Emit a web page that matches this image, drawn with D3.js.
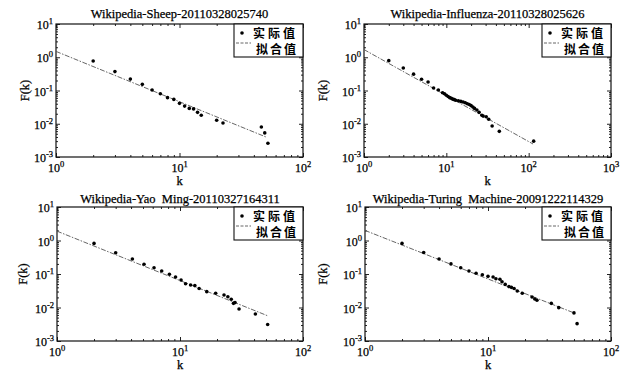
<!DOCTYPE html>
<html>
<head>
<meta charset="utf-8">
<script src="https://cdn.jsdelivr.net/npm/d3@7"></script>
<style>
  body { margin: 0; background: #fff; }
  svg { display: block; }
  text { font-family: 'Liberation Serif', 'DejaVu Serif', serif; fill: #000; stroke: #000; stroke-width: 0.25; }
  .cjk { font-family: 'Noto Sans CJK SC', sans-serif; font-weight: 700; stroke-width: 0; }
  .tick line { stroke: #222; }
</style>
</head>
<body>
<svg id="chart" width="625" height="370"></svg>
<script>
// panel titles
const titles = [
  'Wikipedia-Sheep-20110328025740',
  'Wikipedia-Influenza-20110328025626',
  'Wikipedia-Yao  Ming-20110327164311',
  'Wikipedia-Turing  Machine-20091222114329'
];
const legendLabels = ['实际值', '拟合值'];
const xLabel = 'k';
const yLabel = 'F(k)';

// tick exponents
const yTickExp = [-3, -2, -1, 0, 1];
const xTickExp = [[0, 1, 2], [0, 1, 2, 3], [0, 1, 2], [0, 1, 2]];

// Sheep
const sheepK = [2, 3, 4, 5, 6, 7, 8, 9, 10, 11, 12, 13, 14, 15, 20, 22.5, 46, 49, 52];
const sheepF = [0.77, 0.37, 0.22, 0.153, 0.103, 0.080, 0.061, 0.054, 0.041, 0.034, 0.029, 0.028, 0.022, 0.018, 0.0127, 0.0105, 0.0080, 0.0053, 0.0026];
const sheepFitK = [1, 51];
const sheepFitF = [1.5, 0.0039];

// Influenza
const fluK = [2, 3, 4, 5, 6, 7, 8, 9, 9.5, 10, 10.5, 11, 11.5, 12, 12.5, 13, 14, 15, 16, 17, 18, 19, 20, 21, 22, 23.5, 25, 27, 28, 30.5, 32.7, 36, 44, 115];
const fluF = [0.79, 0.475, 0.31, 0.217, 0.18, 0.119, 0.104, 0.086, 0.080, 0.072, 0.066, 0.061, 0.058, 0.055, 0.053, 0.051, 0.049, 0.047, 0.045, 0.043, 0.040, 0.038, 0.035, 0.032, 0.029, 0.026, 0.022, 0.018, 0.017, 0.0163, 0.0136, 0.0086, 0.0059, 0.0030];
const fluFitK = [1, 113];
const fluFitF = [1.7, 0.00246];

// Yao Ming
const yaoK = [2, 3, 4.1, 5.1, 6.15, 7.1, 8.2, 9.2, 10.2, 11.1, 12.2, 13.2, 14.3, 16.5, 19.5, 22.8, 24.5, 26.1, 27.2, 28, 30.2, 41, 51.6];
const yaoF = [0.82, 0.43, 0.28, 0.195, 0.154, 0.123, 0.098, 0.081, 0.066, 0.051, 0.047, 0.045, 0.037, 0.0297, 0.0265, 0.0236, 0.021, 0.0176, 0.0133, 0.014, 0.009, 0.0064, 0.0031];
const yaoFitK = [1, 52];
const yaoFitF = [1.9, 0.0056];

// Turing Machine
const turingK = [2, 3, 4, 5, 6, 7, 8, 9, 10, 11, 11.6, 12.5, 13, 13.8, 14.8, 15.5, 16.3, 17.3, 19, 22.8, 24, 25, 32.7, 37.6, 50, 53];
const turingF = [0.82, 0.44, 0.28, 0.20, 0.154, 0.123, 0.105, 0.095, 0.085, 0.081, 0.072, 0.07, 0.059, 0.049, 0.042, 0.040, 0.037, 0.031, 0.0265, 0.0206, 0.018, 0.0164, 0.0133, 0.0099, 0.0069, 0.0033];
const turingFitK = [1, 51];
const turingFitF = [2.0, 0.0067];

const svg = d3.select('#chart');

const panels = [
  { x0: 56, x1: 303, y0: 24, y1: 157, xMax: 100, titleY: 18, labelX: 29, k: sheepK, f: sheepF, fk: sheepFitK, ff: sheepFitF },
  { x0: 364, x1: 611, y0: 24, y1: 157, xMax: 1000, titleY: 18, labelX: 327, k: fluK, f: fluF, fk: fluFitK, ff: fluFitF },
  { x0: 57, x1: 303, y0: 207, y1: 341, xMax: 100, titleY: 203, labelX: 27, k: yaoK, f: yaoF, fk: yaoFitK, ff: yaoFitF },
  { x0: 365, x1: 611, y0: 207, y1: 341, xMax: 100, titleY: 203, labelX: 327, k: turingK, f: turingF, fk: turingFitK, ff: turingFitF }
];

function isMajor(v) {
  const l = Math.log10(v);
  return Math.abs(l - Math.round(l)) < 1e-9;
}

function powLabel(sel, e) {
  sel.append('tspan').text('10');
  sel.append('tspan').attr('dy', -5).attr('font-size', 8.5).text(e);
}

function DrawPanel(p, i) {
  const x = d3.scaleLog().domain([1, p.xMax]).range([p.x0, p.x1]);
  const y = d3.scaleLog().domain([1e-3, 10]).range([p.y1, p.y0]);
  const g = svg.append('g');

  const xMinor = x.ticks().filter(v => !isMajor(v));
  const xMajor = xTickExp[i].map(e => Math.pow(10, e));
  const yMinor = y.ticks().filter(v => !isMajor(v));
  const yMajor = yTickExp.map(e => Math.pow(10, e));

  const noDomain = s => s.select('.domain').remove();
  // ticks pointing inward on all four sides
  [[xMinor, 2], [xMajor, 4]].forEach(([vals, len]) => {
    g.append('g').attr('transform', 'translate(0,' + p.y1 + ')')
      .call(d3.axisBottom(x).tickValues(vals).tickSize(-len).tickFormat('')).call(noDomain);
    g.append('g').attr('transform', 'translate(0,' + p.y0 + ')')
      .call(d3.axisTop(x).tickValues(vals).tickSize(-len).tickFormat('')).call(noDomain);
  });
  [[yMinor, 2], [yMajor, 4]].forEach(([vals, len]) => {
    g.append('g').attr('transform', 'translate(' + p.x0 + ',0)')
      .call(d3.axisLeft(y).tickValues(vals).tickSize(-len).tickFormat('')).call(noDomain);
    g.append('g').attr('transform', 'translate(' + p.x1 + ',0)')
      .call(d3.axisRight(y).tickValues(vals).tickSize(-len).tickFormat('')).call(noDomain);
  });

  g.append('rect')
    .attr('x', p.x0).attr('y', p.y0)
    .attr('width', p.x1 - p.x0).attr('height', p.y1 - p.y0)
    .attr('fill', 'none').attr('stroke', '#111').attr('stroke-width', 1.2);

  // tick labels
  xTickExp[i].forEach(e => {
    g.append('text').attr('x', x(Math.pow(10, e))).attr('y', p.y1 + 15)
      .attr('text-anchor', 'middle').attr('font-size', 12).call(powLabel, e);
  });
  yTickExp.forEach(e => {
    g.append('text').attr('x', p.x0 - 3).attr('y', y(Math.pow(10, e)) + 5)
      .attr('text-anchor', 'end').attr('font-size', 12).call(powLabel, e);
  });

  // title and axis labels
  g.append('text').attr('x', (p.x0 + p.x1) / 2).attr('y', p.titleY)
    .attr('text-anchor', 'middle').attr('font-size', 12.5)
    .style('white-space', 'pre').text(titles[i]);
  g.append('text').attr('x', (p.x0 + p.x1) / 2).attr('y', p.y1 + 27.5)
    .attr('text-anchor', 'middle').attr('font-size', 12.5).text(xLabel);
  g.append('text').attr('transform', 'translate(' + p.labelX + ',' + ((p.y0 + p.y1) / 2) + ') rotate(-90)')
    .attr('text-anchor', 'middle').attr('font-size', 12.5).text(yLabel);

  // fit line
  const line = d3.line().x(d => x(d[0])).y(d => y(d[1]));
  g.append('path').datum(d3.zip(p.fk, p.ff))
    .attr('fill', 'none').attr('stroke', '#555').attr('stroke-width', 0.9)
    .attr('stroke-dasharray', '5,1.5,1.5,1.5').attr('d', line);

  // data points
  g.selectAll('circle.pt').data(d3.zip(p.k, p.f)).enter().append('circle')
    .attr('class', 'pt').attr('cx', d => x(d[0])).attr('cy', d => y(d[1]))
    .attr('r', 1.8).attr('fill', '#000');

  // legend
  const lx = p.x1 - 69;
  const lg = g.append('g');
  lg.append('rect').attr('x', lx).attr('y', p.y0).attr('width', 69).attr('height', 33)
    .attr('fill', '#fff').attr('stroke', '#111').attr('stroke-width', 1.1);
  lg.append('circle').attr('cx', lx + 8).attr('cy', p.y0 + 9).attr('r', 1.8).attr('fill', '#000');
  lg.append('line').attr('x1', lx + 2).attr('x2', lx + 17).attr('y1', p.y0 + 19).attr('y2', p.y0 + 19)
    .attr('stroke', '#555').attr('stroke-width', 0.9).attr('stroke-dasharray', '3,1.5');
  lg.append('text').attr('class', 'cjk').attr('x', lx + 19).attr('y', p.y0 + 14)
    .attr('font-size', 12).attr('letter-spacing', 3).text(legendLabels[0]);
  lg.append('text').attr('class', 'cjk').attr('x', lx + 22).attr('y', p.y0 + 30)
    .attr('font-size', 12).attr('letter-spacing', 2).text(legendLabels[1]);
}

panels.forEach(DrawPanel);
</script>
</body>
</html>
